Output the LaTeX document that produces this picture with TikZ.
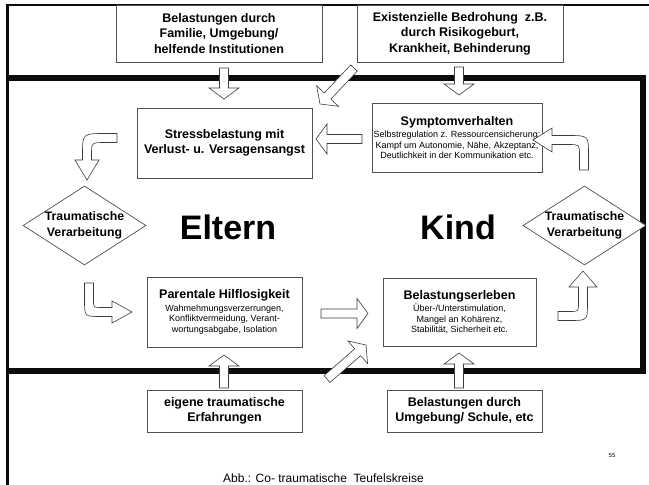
\documentclass[tikz,border=0pt]{standalone}
\usepackage{fontspec}
\setmainfont{Liberation Sans}
\usetikzlibrary{shapes.geometric,calc}
\definecolor{frameBlack}{RGB}{12,12,12}
\definecolor{boxGray}{RGB}{80,80,80}
\definecolor{arrowGray}{RGB}{60,60,60}

\newcommand{\titlefont}{\bfseries\fontsize{12.5}{15.5}\selectfont}
\newcommand{\subfont}{\fontsize{9}{10.5}\selectfont}
\def\shaftw{4.5pt}
\def\headw{15pt}
\def\headlen{11pt}
% hollow block arrow from #1 to #2
\newcommand{\blockarrow}[2]{%
  \path ($(#2)!\headlen!(#1)$) coordinate (hb);
  \draw[hollow] ($(#1)!\shaftw!90:(#2)$) -- ($(hb)!\shaftw!-90:(#1)$)
    -- ($(hb)!\headw!-90:(#1)$) -- (#2) -- ($(hb)!\headw!90:(#1)$)
    -- ($(hb)!\shaftw!90:(#1)$) -- ($(#1)!\shaftw!-90:(#2)$) -- cycle;}

\begin{document}
\begin{tikzpicture}[x=1pt, y=-1pt,
  box/.style={draw=boxGray, fill=white, line width=0.7pt, inner sep=0pt,
              align=center, font=\titlefont},
  subbox/.style={box, font=\subfont},
  diam/.style={diamond, draw=boxGray, fill=white, line width=0.7pt,
               inner sep=0pt, minimum width=123pt, minimum height=79pt},
  dtext/.style={align=center, inner sep=0pt,
                font=\bfseries\fontsize{12.3}{16.5}\selectfont},
  hollow/.style={draw=arrowGray, fill=white, line width=0.6pt},
  big/.style={inner sep=0pt, font=\bfseries\fontsize{34}{40}\selectfont},
  frame/.style={frameBlack, line width=6pt, line join=miter}
]
  \useasboundingbox (0,0) rectangle (649,485);

  % frames
  \draw[frameBlack, line width=3pt] (7,3.5) -- (7,485);
  \draw[frameBlack, line width=2pt] (5.5,4.5) -- (649,4.5);
  \draw[frame] (5.5,78) -- (643,78) -- (643,370.5) -- (5.5,370.5);

  % outer influences
  \node[box, minimum width=206pt, minimum height=57pt] (famBox) at (219,33.5)
    {Belastungen durch\\Familie, Umgebung/\\helfende Institutionen};
  \node[box, minimum width=206pt, minimum height=57pt] (existBox) at (460,33.5)
    {Existenzielle Bedrohung\ \ z.B.\\durch Risikogeburt,\\Krankheit, Behinderung};
  \node[box, minimum width=155pt, minimum height=42pt] (eigBox) at (224.5,411)
    {eigene traumatische\\Erfahrungen};
  \node[box, minimum width=155pt, minimum height=42pt] (umgBox) at (464.5,411)
    {Belastungen durch\\Umgebung/ Schule, etc};

  % circle
  \node[box, minimum width=175pt, minimum height=70pt] (stressBox) at (224.5,143)
    {Stressbelastung mit\\Verlust- u. Versagensangst};
  \node[subbox, minimum width=170pt, minimum height=69pt] (symBox) at (457,137.5)
    {{\titlefont Symptomverhalten}\\[2pt]Selbstregulation z. Ressourcensicherung:\\
     Kampf um Autonomie, Nähe, Akzeptanz,\\Deutlichkeit in der Kommunikation etc.};
  \node[subbox, minimum width=155pt, minimum height=70pt] (parBox) at (224.5,312)
    {{\titlefont Parentale Hilflosigkeit}\\[2pt]Wahmehmungsverzerrungen,\\
     Konfliktvermeidung, Verant-\\wortungsabgabe, Isolation};
  \node[subbox, minimum width=153pt, minimum height=68pt] (belBox) at (459.5,312)
    {{\titlefont Belastungserleben}\\[2pt]Über-/Unterstimulation,\\
     Mangel an Kohärenz,\\Stabilität, Sicherheit etc.};

  \node[diam] (leftDiam) at (84.5,225.5) {};
  \node[dtext] (leftDiamText) at (leftDiam) {Traumatische\\Verarbeitung};
  \node[diam] (rightDiam) at (584.5,225.5) {};
  \node[dtext] (rightDiamText) at (rightDiam) {Traumatische\\Verarbeitung};

  \node[big] (eltern) at (228,227) {Eltern};
  \node[big] (kind) at (458,227) {Kind};

  % straight arrows
  \coordinate (famOut) at (224,68);     \coordinate (stressTop) at (224,99);
  \coordinate (existOut) at (459,67);   \coordinate (symTop) at (459,95);
  \coordinate (existDiag) at (354,68);  \coordinate (stressCorner) at (320,104);
  \coordinate (symOut) at (362,139);    \coordinate (stressRight) at (316,139);
  \coordinate (parOut) at (321,313.5);  \coordinate (belLeft) at (368,313.5);
  \coordinate (diagLow) at (327,379);   \coordinate (belCorner) at (366,345);
  \coordinate (eigOut) at (224,388);    \coordinate (parBottom) at (224,355);
  \coordinate (umgOut) at (459,388);    \coordinate (belBottom) at (459,353);
  \foreach \a/\b in {famOut/stressTop, existOut/symTop, existDiag/stressCorner,
                     symOut/stressRight, parOut/belLeft, diagLow/belCorner,
                     eigOut/parBottom, umgOut/belBottom}
    \blockarrow{\a}{\b};

  % curved arrows
  \draw[hollow] (117,133.5) -- (105,133.5) .. controls (82.5,133.5) .. (82.5,155)
    -- (82.5,160) -- (75,160) -- (87,180) -- (99,160) -- (91.5,160) -- (91.5,155)
    .. controls (91.5,142.5) .. (105,142.5) -- (117,142.5) -- cycle;
  \draw[hollow] (84.5,283) -- (84.5,300) .. controls (84.5,316.5) .. (100,316.5)
    -- (112,316.5) -- (112,323) -- (132,312) -- (112,301) -- (112,307.5)
    -- (100,307.5) .. controls (93.5,307.5) .. (93.5,300) -- (93.5,283) -- cycle;
  \draw[hollow] (558,320.5) -- (570,320.5) .. controls (587.5,320.5) .. (587.5,303)
    -- (587.5,287) -- (597,287) -- (583,271) -- (569,287) -- (578.5,287)
    -- (578.5,303) .. controls (578.5,311.5) .. (570,311.5) -- (558,311.5) -- cycle;
  \draw[hollow] (579.5,170) -- (579.5,155) .. controls (579.5,144.5) .. (568,144.5)
    -- (552,144.5) -- (552,152) -- (533,140) -- (552,128) -- (552,135.5)
    -- (568,135.5) .. controls (588.5,135.5) .. (588.5,155) -- (588.5,170) -- cycle;

  \node[font=\fontsize{6}{7}\selectfont] (pageNo) at (612,455) {55};
  \node[font=\fontsize{12}{14}\selectfont] (caption) at (323.5,478)
    {Abb.: Co- traumatische\ \ Teufelskreise};
\end{tikzpicture}
\end{document}
